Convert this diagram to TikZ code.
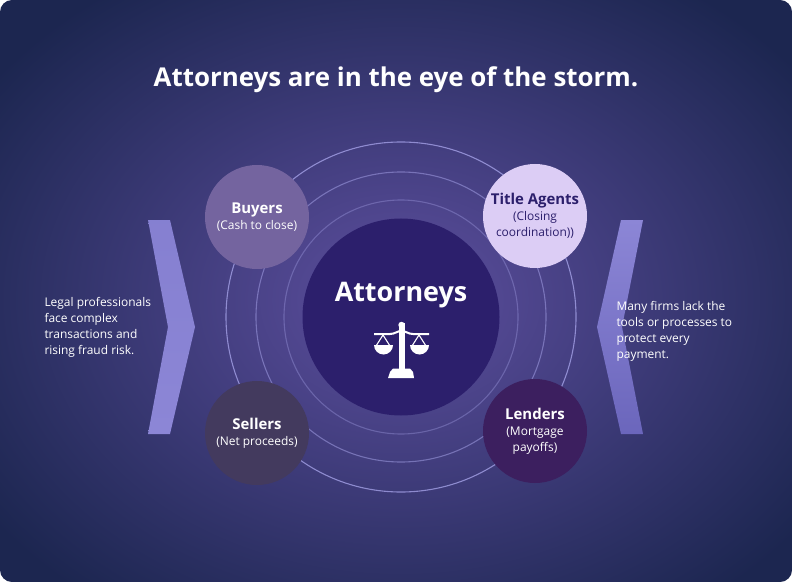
\documentclass[tikz,border=0pt]{standalone}
\usepackage{fontspec}
\setmainfont{Open Sans}
\definecolor{bgdark}{HTML}{1C2650}
\definecolor{bgmid}{HTML}{5E4FA0}
\definecolor{ring}{HTML}{A9A6EC}
\definecolor{core}{HTML}{2C1F6C}
\definecolor{buyers}{HTML}{74649F}
\definecolor{title}{HTML}{DCCDF5}
\definecolor{sellers}{HTML}{433A5E}
\definecolor{lenders}{HTML}{3C1F5F}
\definecolor{chevA}{HTML}{8C86D6}
\definecolor{chevB}{HTML}{6B66BC}
\begin{document}
\begin{tikzpicture}[x=1bp,y=-1bp,
  sat/.style={circle,minimum size=104bp,inner sep=0pt,align=center,font=\fontsize{12}{16}\selectfont},
  ringline/.style={draw=ring,line width=1.1bp},
  side/.style={text=white,align=left,anchor=north west,font=\fontsize{12}{16}\selectfont}]
\useasboundingbox (0,0) rectangle (792,582);
\begin{scope}
\clip[rounded corners=12bp] (0,0) rectangle (792,582);
\fill[bgdark] (0,0) rectangle (792,582);
\shade[inner color=bgmid,outer color=bgdark] (400,300) ellipse (500 and 380);
\end{scope}
\node[text=white,font=\bfseries\fontsize{26}{30}\selectfont] (ttl) at (396,80) {Attorneys are in the eye of the storm.};
\draw[ringline,draw opacity=0.75] (401,317) circle (175);
\draw[ringline,draw opacity=0.5] (401,317) circle (145);
\draw[ringline,draw opacity=0.35] (401,317) circle (117);
\node[circle,fill=core,minimum size=197bp,inner sep=0pt] (att) at (401,317) {};
\node[text=white,font=\bfseries\fontsize{27}{30}\selectfont] (attl) at (401,295) {Attorneys};
% scale icon
\begin{scope}[fill=white,draw=white]
\fill (398.5,323) rectangle (404.5,375);
\fill (401.5,325) circle (3.2);
\draw[line width=2bp] (374,334) -- (390,334) .. controls (395,334) and (397,331) .. (401.5,331) .. controls (406,331) and (408,334) .. (413,334) -- (429,334);
\draw[line width=1.1bp] (383,335) -- (376,346) (383,335) -- (390,346) (419,335) -- (412,346) (419,335) -- (426,346);
\fill (374,345) arc (180:0:9.5) -- cycle;
\fill (410,345) arc (180:0:9.5) -- cycle;
\fill (390,372) -- (393,368.5) -- (410,368.5) -- (413,372) -- (414,378) -- (388,378) -- cycle;
\end{scope}
\node[sat,fill=buyers,text=white] (buy) at (257,217) {\textbf{\fontsize{15}{18}\selectfont Buyers}\\(Cash to close)};
\node[sat,fill=title,text=core] (tit) at (535,216) {\textbf{\fontsize{15}{18}\selectfont Title Agents}\\(Closing\\coordination))};
\node[sat,fill=sellers,text=white] (sel) at (257,433) {\textbf{\fontsize{15}{18}\selectfont Sellers}\\(Net proceeds)};
\node[sat,fill=lenders,text=white] (len) at (535,431) {\textbf{\fontsize{15}{18}\selectfont Lenders}\\(Mortgage\\payoffs)};
\shade[top color=chevA!80!chevB,bottom color=chevA] (148,220) -- (170,220) -- (195,327) -- (170,434) -- (148,434) -- (168,327) -- cycle;
\shade[top color=chevA,bottom color=chevB] (643,220) -- (621,220) -- (597,327) -- (621,434) -- (643,434) -- (622,327) -- cycle;
\node[side] (lt) at (41,294) {Legal professionals\\face complex\\transactions and\\rising fraud risk.};
\node[side] (rt) at (613,298) {Many firms lack the\\tools or processes to\\protect every\\payment.};
\end{tikzpicture}
\end{document}
